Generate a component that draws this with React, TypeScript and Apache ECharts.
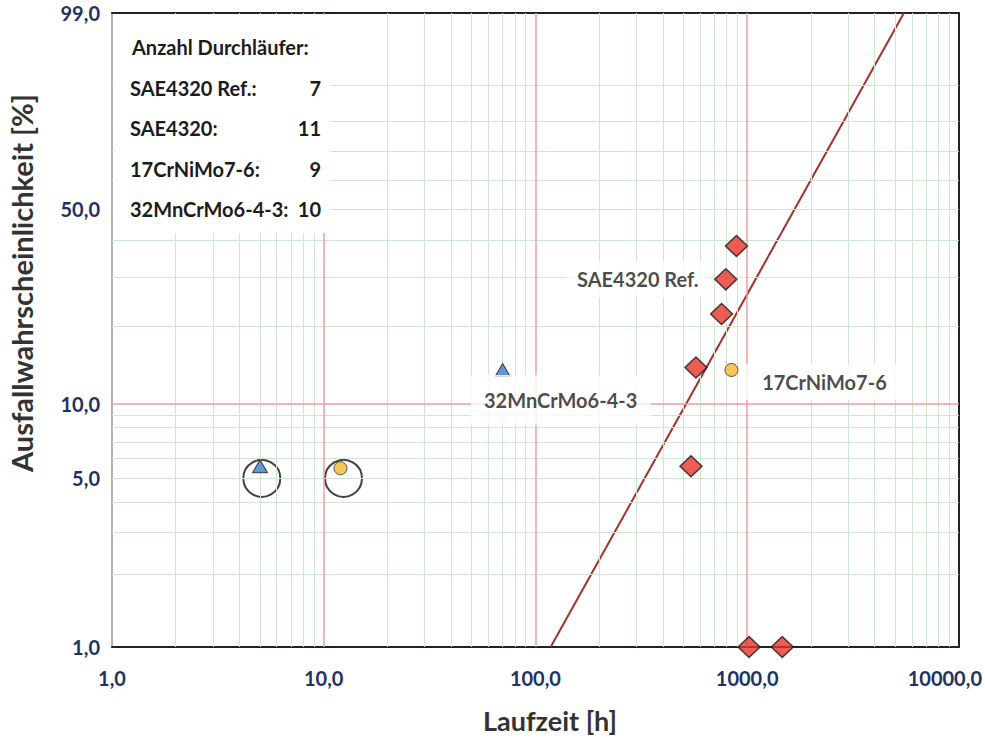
import React, { useEffect, useRef } from "react";
import * as echarts from "echarts";

// Weibull probability plot: failure probability vs. running time

// SAE4320 Ref. – failures and run-outs
const saeRefHours = [890, 793, 757, 573, 543, 1021, 1465];
const saeRefPct = [38.4, 29.6, 22.2, 13.9, 5.6, 1.0, 1.0];

// 17CrNiMo7-6
const crNiMoHours = [12.0, 843];
const crNiMoPct = [5.5, 13.6];

// 32MnCrMo6-4-3
const mnCrMoHours = [5.0, 70.0];
const mnCrMoPct = [5.6, 13.6];

// encircled early failures
const ringHours = [5.1, 12.4];
const ringPct = [5.0, 5.0];

// Weibull fit line (end points)
const fitHours = [118, 5500];
const fitPct = [1.0, 99.0];

// axis ticks
const xTicks = [1, 10, 100, 1000, 10000];
const yTickPct = [1, 5, 10, 50, 99];

// grid lines
const decades = [1, 10, 100, 1000];
const decadeSteps = [2, 3, 4, 5, 6, 7, 8, 9];
const xMajorGrid = [10, 100, 1000];
const yMinorGridPct = [2, 3, 4, 5, 6, 7, 8, 9, 20, 30, 40, 50, 60, 70, 80, 90];
const yMajorGridPct = [10];

// run-out counts
const runoutTitle = "Anzahl Durchläufer:";
const runoutNames = ["SAE4320 Ref.:", "SAE4320:", "17CrNiMo7-6:", "32MnCrMo6-4-3:"];
const runoutCounts = [7, 11, 9, 10];

const FONT = "Lato";
const TEXT = "#1c1c1c";
const TICK = "#1f3264";
const GREEN = "#cfe6cf";
const RED = "#ea9f9f";

const weib = (pct: number) => Math.log(-Math.log(1 - pct / 100));
const fromWeib = (w: number) => 100 * (1 - Math.exp(-Math.exp(w)));
const fmt = (v: number) => v.toFixed(1).replace(".", ",");

const pts = (xs: number[], ps: number[]) => xs.map((x, i) => [x, weib(ps[i])]);

const noExtras = {
  axisTick: { show: false },
  minorTick: { show: false },
  splitLine: { show: false },
  minorSplitLine: { show: false },
  splitArea: { show: false },
};

export default function App() {
  const ref = useRef<HTMLDivElement>(null);

  useEffect(() => {
    if (!ref.current) return;
    document.body.style.overflow = "hidden";
    const chart = echarts.init(ref.current, undefined, { renderer: "svg" });

    const xMinorGrid: number[] = [];
    decades.forEach((d) => decadeSteps.forEach((s) => xMinorGrid.push(d * s)));

    const minorLines = [
      ...xMinorGrid.map((v) => ({ xAxis: v })),
      ...yMinorGridPct.map((p) => ({ yAxis: weib(p) })),
    ];
    const majorLines = [
      ...xMajorGrid.map((v) => ({ xAxis: v })),
      ...yMajorGridPct.map((p) => ({ yAxis: weib(p) })),
    ];

    const labelBase = {
      show: true,
      position: "inside",
      color: TEXT,
      fontFamily: FONT,
      fontWeight: "bold",
      fontSize: 20,
      backgroundColor: "#ffffff",
    };

    const saeData: any[] = pts(saeRefHours, saeRefPct).map((v) => ({ value: v }));
    saeData[1].label = { ...labelBase, formatter: "SAE4320 Ref.", offset: [-88, 0], padding: [8, 11] };

    const crData: any[] = pts(crNiMoHours, crNiMoPct).map((v) => ({ value: v }));
    crData[1].label = { ...labelBase, formatter: "17CrNiMo7-6", offset: [93, 12], padding: [8, 17] };

    const mnData: any[] = pts(mnCrMoHours, mnCrMoPct).map((v) => ({ value: v }));
    mnData[1].label = { ...labelBase, formatter: "32MnCrMo6-4-3", offset: [58, 30], padding: [15, 13] };

    const tickText = {
      color: TICK,
      fontFamily: FONT,
      fontWeight: "bold" as const,
      fontSize: 20,
    };

    const yMin = weib(yTickPct[0]);
    const yMax = weib(yTickPct[yTickPct.length - 1]);

    const boxText = (text: string, x: number, y: number, align: string) => ({
      type: "text",
      z: 51,
      x,
      y,
      style: {
        text,
        fill: TEXT,
        fontFamily: FONT,
        fontWeight: "bold",
        fontSize: 20,
        align,
        verticalAlign: "middle",
      },
    });

    const boxElems: any[] = [
      {
        type: "rect",
        z: 50,
        shape: { x: 114, y: 15, width: 216, height: 218 },
        style: { fill: "#ffffff" },
      },
      boxText(runoutTitle, 132, 47, "left"),
    ];
    runoutNames.forEach((name, i) => {
      const y = 88 + i * 40.3;
      boxElems.push(boxText(name, 130, y, "left"));
      boxElems.push(boxText(String(runoutCounts[i]), 321, y, "right"));
    });

    const gridSeries = (name: string, color: string, width: number, data: any[], z: number) => ({
      type: "scatter",
      name,
      z,
      silent: true,
      data: [],
      markLine: {
        silent: true,
        symbol: ["none", "none"],
        label: { show: false },
        emphasis: { disabled: true },
        animation: false,
        lineStyle: { color, width, type: "solid", opacity: 1 },
        data,
      },
    });

    chart.setOption({
      animation: false,
      backgroundColor: "#ffffff",
      grid: { left: 112, right: 21, top: 13, bottom: 91, containLabel: false },
      xAxis: [
        {
          type: "log",
          logBase: 10,
          min: xTicks[0],
          max: xTicks[xTicks.length - 1],
          position: "bottom",
          axisLine: { show: true, onZero: false, lineStyle: { color: "#222222", width: 2 } },
          ...noExtras,
          axisLabel: {
            ...tickText,
            margin: 21,
            formatter: (v: number) => {
              const s = fmt(Math.round(v));
              return Math.round(v) >= xTicks[xTicks.length - 1] ? `{edge|${s}}` : s;
            },
            rich: { edge: { ...tickText, padding: [0, 28, 0, 0] } },
          },
        },
        {
          type: "log",
          logBase: 10,
          min: xTicks[0],
          max: xTicks[xTicks.length - 1],
          position: "top",
          axisLine: { show: true, onZero: false, lineStyle: { color: "#222222", width: 2 } },
          ...noExtras,
          axisLabel: { show: false },
        },
      ],
      yAxis: [
        {
          type: "value",
          min: yMin,
          max: yMax,
          position: "left",
          axisLine: { show: true, onZero: false, lineStyle: { color: "#9a9a9a", width: 1.5 } },
          ...noExtras,
          axisLabel: {
            ...tickText,
            margin: 12,
            customValues: yTickPct.map(weib),
            formatter: (v: number) => fmt(Math.round(fromWeib(v) * 10) / 10),
          },
        },
        {
          type: "value",
          min: yMin,
          max: yMax,
          position: "right",
          axisLine: { show: true, onZero: false, lineStyle: { color: "#222222", width: 2 } },
          ...noExtras,
          axisLabel: { show: false },
        },
      ],
      graphic: [
        ...boxElems,
        {
          type: "text",
          x: 550,
          y: 720,
          style: {
            text: "Laufzeit [h]",
            fill: "#333333",
            fontFamily: FONT,
            fontWeight: "bold",
            fontSize: 27,
            align: "center",
            verticalAlign: "middle",
          },
        },
        {
          type: "text",
          x: 21,
          y: 283,
          rotation: Math.PI / 2,
          style: {
            text: "Ausfallwahrscheinlichkeit [%]",
            fill: "#333333",
            fontFamily: FONT,
            fontWeight: "bold",
            fontSize: 29,
            align: "center",
            verticalAlign: "middle",
          },
        },
      ],
      series: [
        gridSeries("Hilfslinien", GREEN, 1, minorLines, 1),
        gridSeries("Hauptlinien", RED, 1.5, majorLines, 2),
        {
          type: "line",
          name: "Weibull-Gerade",
          z: 3,
          silent: true,
          showSymbol: false,
          symbol: "none",
          lineStyle: { color: "#a3322c", width: 2 },
          data: pts(fitHours, fitPct),
        },
        {
          type: "scatter",
          name: "Markierung",
          z: 4,
          symbol: "circle",
          symbolSize: 37,
          itemStyle: { color: "rgba(0,0,0,0)", borderColor: "#111111", borderWidth: 2 },
          data: pts(ringHours, ringPct),
        },
        {
          type: "scatter",
          name: "SAE4320 Ref.",
          z: 5,
          symbol: "diamond",
          symbolSize: [22, 21],
          itemStyle: { color: "#e8342a", borderColor: "#1a1a1a", borderWidth: 1.5 },
          data: saeData,
        },
        {
          type: "scatter",
          name: "17CrNiMo7-6",
          z: 5,
          symbol: "circle",
          symbolSize: 13,
          itemStyle: { color: "#f5b82e", borderColor: "#333333", borderWidth: 1 },
          data: crData,
        },
        {
          type: "scatter",
          name: "32MnCrMo6-4-3",
          z: 5,
          symbol: "triangle",
          symbolSize: [15, 13],
          itemStyle: { color: "#3f7fca", borderColor: "#1a1a1a", borderWidth: 1 },
          data: mnData,
        },
      ],
    });

    return () => chart.dispose();
  }, []);

  return (
    <div
      ref={ref}
      style={{ position: "fixed", left: 0, top: 0, width: 985, height: 738, background: "#fff" }}
    />
  );
}
